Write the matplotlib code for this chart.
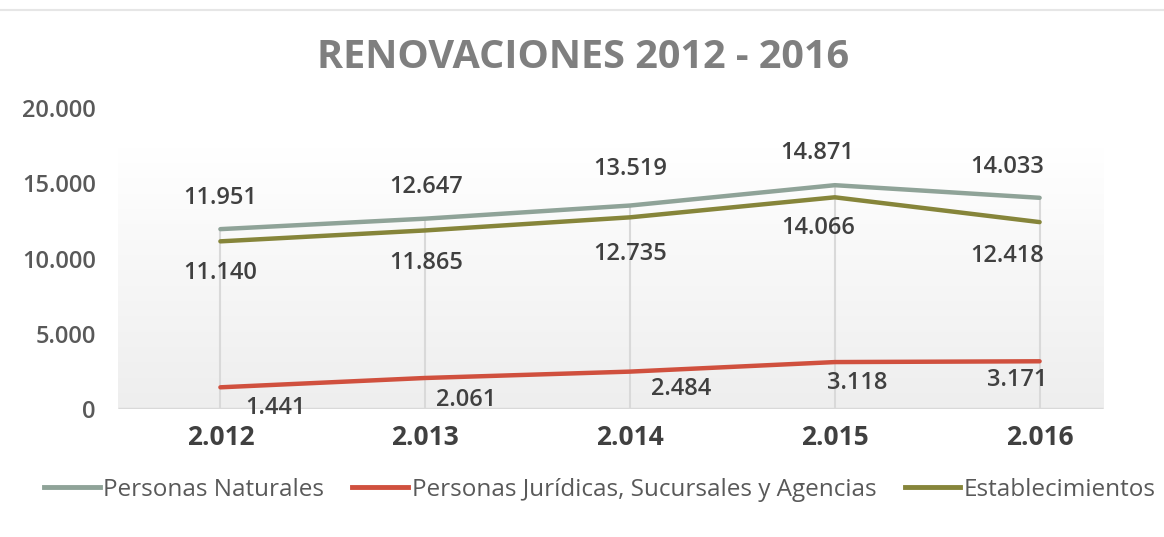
import matplotlib
matplotlib.use("Agg")
import matplotlib.pyplot as plt
import numpy as np
from matplotlib.lines import Line2D
from matplotlib.colors import LinearSegmentedColormap

years = ["2.012", "2.013", "2.014", "2.015", "2.016"]
naturales = [11951, 12647, 13519, 14871, 14033]
juridicas = [1441, 2061, 2484, 3118, 3171]
establecimientos = [11140, 11865, 12735, 14066, 12418]
yticks = [0, 5000, 10000, 15000, 20000]
ytick_labels = ["0", "5.000", "10.000", "15.000", "20.000"]
series_names = ["Personas Naturales", "Personas Jurídicas, Sucursales y Agencias", "Establecimientos"]

def fmt(v):
    return f"{v:,}".replace(",", ".")

c_nat = "#8FA398"
c_jur = "#D0503E"
c_est = "#86853A"
txt = "#595959"

fig = plt.figure(figsize=(11.64, 5.37), dpi=100)
W, H = 1164, 537
ax = fig.add_axes([118 / W, 1 - 409 / H, (1142 - 118) / W, (409 - 108) / H])
for s in ax.spines.values():
    s.set_visible(False)
ax.patch.set_alpha(0)

x = np.arange(len(years))
xr = 4.31
ytop = 17350
grad = np.linspace(1, 0, 256).reshape(-1, 1)
cm = LinearSegmentedColormap.from_list("g", ["#FFFFFF", "#EEEEEE"])
ax.imshow(grad, extent=[-0.5, xr, 0, ytop], aspect="auto", cmap=cm, origin="lower", zorder=0)
ax.set_xlim(-0.5, 4.5)
ax.set_ylim(0, 20000)
ax.plot([-0.5, xr], [0, 0], color="#D9D9D9", lw=2.5, zorder=1, solid_capstyle="butt")

for i in x:
    top = max(naturales[i], establecimientos[i], juridicas[i])
    ax.plot([i, i], [0, top], color="#D9D9D9", lw=1.5, zorder=1)

ax.plot(x, naturales, color=c_nat, lw=3.2, zorder=3, solid_capstyle="round")
ax.plot(x, establecimientos, color=c_est, lw=3.2, zorder=3, solid_capstyle="round")
ax.plot(x, juridicas, color=c_jur, lw=3.2, zorder=3, solid_capstyle="round")

lab_font = dict(fontsize=17, color="#404040", fontfamily="Open Sans", fontweight="semibold")
off_nat = [(0, 31), (1, 32), (0, 37), (-18, 32), (-32, 31)]
off_est = [(0, -32), (1, -33), (0, -37), (-17, -31), (-32, -34)]
off_jur = [(55, -21), (41, -22), (51, -17), (22, -21), (-22, -19)]
for i in x:
    ax.annotate(fmt(naturales[i]), (i, naturales[i]), xytext=off_nat[i], textcoords="offset pixels",
                ha="center", va="center", **lab_font)
    ax.annotate(fmt(establecimientos[i]), (i, establecimientos[i]), xytext=off_est[i], textcoords="offset pixels",
                ha="center", va="center", **lab_font)
    ax.annotate(fmt(juridicas[i]), (i, juridicas[i]), xytext=off_jur[i], textcoords="offset pixels",
                ha="center", va="center", **lab_font)

ax.set_yticks(yticks)
ax.set_yticklabels(ytick_labels, fontsize=17, color=txt, fontfamily="Open Sans", fontweight="semibold")
ax.set_xticks(x)
ax.set_xticklabels(years, fontsize=19, color="#404040", fontfamily="Open Sans", fontweight="bold")
ax.tick_params(axis="both", length=0)
ax.tick_params(axis="y", pad=16)
ax.tick_params(axis="x", pad=11)

fig.text(583 / W, 1 - 57 / H, "RENOVACIONES 2012 - 2016", ha="center", va="center",
         fontsize=28.5, fontweight="bold", color="#7F7F7F", fontfamily="Open Sans")

fig.add_artist(Line2D([0, 1], [1 - 10 / H, 1 - 10 / H], color="#E6E6E6", lw=1.5))

handles = [Line2D([], [], color=c, lw=3.5) for c in (c_nat, c_jur, c_est)]
leg = fig.legend(handles, series_names, loc="center", bbox_to_anchor=(600 / W, 1 - 490 / H), ncol=3,
                 frameon=False, handlelength=2.3, handletextpad=0.15, columnspacing=1.15,
                 prop={"family": "Open Sans", "size": 17.5})
for t in leg.get_texts():
    t.set_color(txt)

fig.savefig("out.png", dpi=100)
